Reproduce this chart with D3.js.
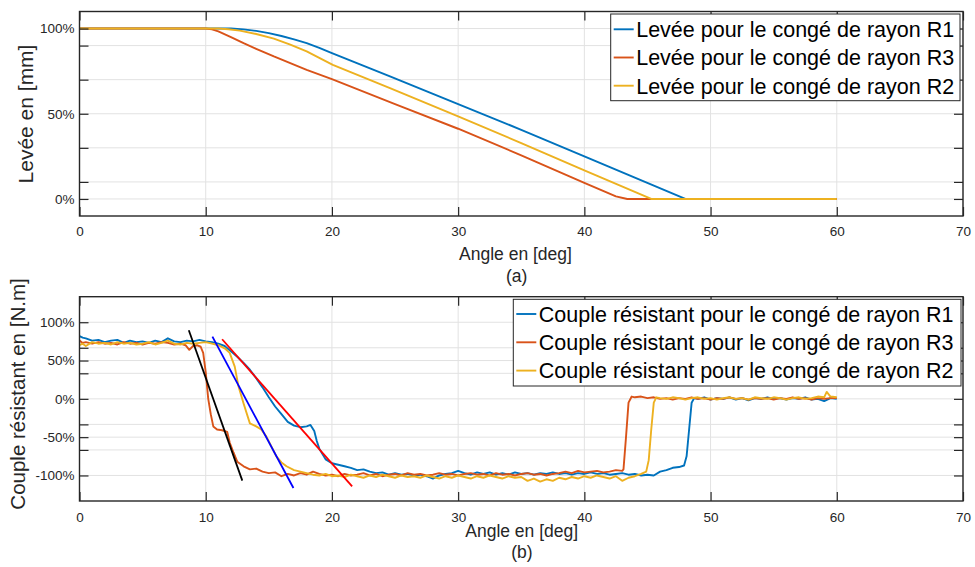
<!DOCTYPE html>
<html><head><meta charset="utf-8">
<script src="https://cdn.jsdelivr.net/npm/d3@7"></script>
<style>
body{margin:0;background:#fff}
svg{display:block}
text{font-family:"Liberation Sans",Arial,Helvetica,sans-serif}
</style>
</head><body>
<svg id="chart" width="975" height="567"></svg>
<script>
// ---------- data ----------
const angleTicks = [0,10,20,30,40,50,60,70];
const liftTickValues = [0,10,30,50,70,90,100];
const liftTickLabels = ["0%","","","50%","","","100%"];
const torqueTickValues = [-100,-66.67,-50,-33.33,0,33.33,50,66.67,100];
const torqueTickLabels = ["-100%","","-50%","","0%","","50%","","100%"];

const liftNames = ["Levée pour le congé de rayon R1","Levée pour le congé de rayon R3","Levée pour le congé de rayon R2"];
const torqueNames = ["Couple résistant pour le congé de rayon R1","Couple résistant pour le congé de rayon R3","Couple résistant pour le congé de rayon R2"];
const seriesColors = ["#0072BD","#D95319","#EDB120"];

// lift (%) vs angle (deg)
const liftR1 = [[0,100],[12,100],[13,99.5],[14,98.6],[15,97.3],[16,95.6],[17,93.6],[18,91.4],[19,88.6],[20,85.6],[24.6,71.9],[30,55.7],[35,40.6],[40,25],[48,0],[60,0]];
const liftR3 = [[0,100],[10,100],[10.5,99.5],[11,98.3],[12,95],[13,91.4],[14,88.1],[15.4,83.6],[18,75.8],[20,70.3],[25,55.7],[30,41.2],[35,25.6],[40,9.4],[42.5,1.5],[43.4,0],[60,0]];
const liftR2 = [[0,100],[11,100],[11.8,99.6],[12.7,98.8],[14,96.8],[15.4,94.1],[16.7,90.6],[18,86.6],[20.07,78.7],[24.6,65],[30,48.4],[35,32.8],[40,16.8],[45.3,0],[60,0]];

// resisting torque (%) vs angle (deg)
const torqueR1 = [[0,82],[0.25,80],[0.5,79],[1,76],[1.5,77],[2,74],[2.5,76],[3,77],[3.5,73],[4,76],[4.5,74],[5,75],[5.5,73],[6,76],[6.5,74],[7,79],[7.5,75],[8,74],[8.5,76],[9,75],[9.5,77],[10,75],[10.5,74],[11,72],[11.5,69],[12,62],[12.5,55],[13,47],[13.5,38],[14,27],[14.5,15],[15,2],[15.5,-10],[16,-20],[16.5,-30],[17,-35],[17.5,-37],[18,-36],[18.3,-34],[18.6,-42],[18.8,-55],[19,-65],[19.5,-79],[20,-84],[20.5,-86],[21,-88],[21.5,-90],[22,-93],[22.5,-92],[23,-95],[23.5,-97],[24,-96],[24.5,-99],[25,-97],[25.5,-99],[26,-98],[26.5,-100],[27,-99],[27.5,-101],[28,-104],[28.5,-100],[29,-98],[29.5,-97],[30,-94],[30.5,-97],[31,-99],[31.5,-96],[32,-98],[32.5,-96],[33,-99],[33.5,-97],[34,-99],[34.5,-96],[35,-98],[35.5,-97],[36,-99],[36.5,-97],[37,-98],[37.5,-96],[38,-98],[38.5,-97],[39,-99],[39.5,-97],[40,-98],[40.5,-96],[41,-98],[41.5,-97],[42,-99],[42.5,-98],[43,-97],[43.5,-99],[44,-98],[44.5,-100],[45,-99],[45.5,-100],[46,-95],[46.5,-93],[47,-90],[47.5,-89],[47.9,-87],[48.1,-75],[48.3,-40],[48.5,-5],[48.7,1],[49,0],[49.5,2],[50,-1],[50.5,1],[51,0],[51.5,2],[52,-1],[52.5,1],[53,-2],[53.5,1],[54,0],[54.5,2],[55,0],[55.5,1],[56,-1],[56.5,1],[57,0],[57.5,2],[58,-1],[58.5,0],[59,-3],[59.5,1],[60,0]];
const torqueR3 = [[0,76],[0.25,73],[0.5,74],[1,72],[1.5,74],[2,72],[2.5,73],[3,71],[3.5,74],[4,72],[4.5,73],[5,71],[5.5,73],[6,72],[6.5,74],[7,73],[7.5,71],[8,72],[8.4,70],[8.7,64],[9,69],[9.3,70],[9.6,68],[9.8,60],[10,35],[10.2,0],[10.4,-20],[10.6,-36],[10.9,-40],[11.3,-41],[11.7,-43],[11.9,-57],[12.2,-70],[12.5,-82],[13,-88],[13.5,-92],[14,-91],[14.5,-95],[15,-97],[15.5,-96],[16,-101],[16.5,-98],[17,-100],[17.5,-97],[18,-99],[18.5,-95],[19,-98],[19.5,-100],[20,-99],[20.5,-101],[21,-98],[21.5,-100],[22,-99],[22.5,-97],[23,-100],[23.5,-98],[24,-101],[24.5,-99],[25,-98],[25.5,-100],[26,-97],[26.5,-99],[27,-98],[27.5,-100],[28,-99],[28.5,-97],[29,-99],[29.5,-98],[30,-100],[30.5,-98],[31,-97],[31.5,-99],[32,-98],[32.5,-100],[33,-97],[33.5,-99],[34,-98],[34.5,-100],[35,-98],[35.5,-97],[36,-99],[36.5,-98],[37,-100],[37.5,-98],[38,-97],[38.5,-95],[39,-97],[39.5,-94],[40,-96],[40.5,-95],[41,-94],[41.5,-96],[42,-95],[42.5,-93],[43,-94],[43.1,-92],[43.3,-50],[43.5,-5],[43.75,3],[44,2],[44.5,3],[45,1],[45.5,2],[46,0],[46.5,1],[47,-1],[47.5,1],[48,0],[48.5,2],[49,0],[49.5,1],[50,-1],[50.5,1],[51,0],[51.5,2],[52,0],[52.5,1],[53,-1],[53.5,1],[54,0],[54.5,1],[55,-1],[55.5,1],[56,0],[56.5,2],[57,0],[57.5,1],[58,-1],[58.5,1],[59,0],[59.5,1],[60,1]];
const torqueR2 = [[0,70],[0.25,72],[0.5,69],[1,74],[1.5,72],[2,73],[2.5,71],[3,74],[3.5,72],[4,73],[4.5,71],[5,72],[5.5,74],[6,71],[6.5,73],[7,76],[7.5,72],[8,71],[8.5,73],[9,72],[9.5,73],[10,74],[10.5,72],[11,70],[11.5,66],[11.9,60],[12.3,42],[12.6,16],[13,-6],[13.5,-32],[14,-36],[14.4,-40],[14.8,-49],[15.2,-62],[15.6,-75],[16,-83],[16.4,-88],[17,-93],[17.5,-95],[18,-97],[18.5,-99],[19,-100],[19.5,-98],[20,-101],[20.5,-100],[21,-102],[21.5,-99],[22,-101],[22.5,-103],[23,-100],[23.5,-102],[24,-99],[24.5,-101],[25,-103],[25.5,-100],[26,-102],[26.5,-101],[27,-103],[27.5,-100],[28,-102],[28.5,-104],[29,-101],[29.5,-103],[30,-100],[30.5,-102],[31,-104],[31.5,-101],[32,-103],[32.5,-100],[33,-102],[33.5,-104],[34,-101],[34.5,-103],[35,-102],[35.5,-107],[36,-104],[36.5,-108],[37,-105],[37.5,-107],[38,-103],[38.5,-105],[39,-102],[39.5,-104],[40,-101],[40.5,-103],[41,-100],[41.5,-102],[42,-104],[42.5,-101],[43,-107],[43.5,-103],[44,-101],[44.5,-98],[44.9,-95],[45.1,-80],[45.3,-40],[45.5,-5],[45.7,2],[46,1],[46.5,0],[47,2],[47.5,1],[48,-1],[48.5,1],[49,2],[49.5,0],[50,1],[50.5,-1],[51,1],[51.5,2],[52,0],[52.5,1],[53,-1],[53.5,2],[54,1],[54.5,0],[55,2],[55.5,1],[56,-1],[56.5,1],[57,2],[57.5,0],[58,1],[58.5,3],[59,2],[59.2,9],[59.5,3],[60,2]];

// fitted slope lines on the torque drop
const slopeBlack = [[8.66,89.5],[12.9,-106.7]];
const slopeBlue = [[10.53,81.2],[16.95,-116.4]];
const slopeRed = [[11.3,77.8],[21.6,-114.3]];
const slopeColors = ["#000000","#0000FF","#FF0000"];

// ---------- drawing ----------
const svg = d3.select("#chart");
const axisColor = "#262626";
const gridColor = "#e2e2e2";

function panel(opt){
  const x = d3.scaleLinear().domain([0,70]).range([opt.left, opt.right]);
  const y = d3.scaleLinear().domain(opt.yDomain).range([opt.bottom, opt.top]);
  const g = svg.append("g");
  const clipId = "clip" + opt.id;
  svg.append("clipPath").attr("id", clipId).append("rect")
    .attr("x", opt.left).attr("y", opt.top)
    .attr("width", opt.right-opt.left).attr("height", opt.bottom-opt.top);

  // grid
  g.selectAll(".gx").data(angleTicks).enter().append("line")
    .attr("x1", d=>x(d)).attr("x2", d=>x(d)).attr("y1", opt.top).attr("y2", opt.bottom)
    .attr("stroke", gridColor).attr("stroke-width", 1);
  g.selectAll(".gy").data(opt.yTicks).enter().append("line")
    .attr("y1", d=>y(d)).attr("y2", d=>y(d)).attr("x1", opt.left).attr("x2", opt.right)
    .attr("stroke", gridColor).attr("stroke-width", 1);

  // data
  const line = d3.line().x(d=>x(d[0])).y(d=>y(d[1]));
  const dg = g.append("g").attr("clip-path", `url(#${clipId})`);
  opt.series.forEach((s,i)=>{
    dg.append("path").datum(s).attr("d", line).attr("fill","none")
      .attr("stroke", seriesColors[i]).attr("stroke-width", 1.9).attr("stroke-linejoin","round");
  });
  (opt.extra||[]).forEach((s,i)=>{
    dg.append("path").datum(s).attr("d", line).attr("fill","none")
      .attr("stroke", slopeColors[i]).attr("stroke-width", 1.8);
  });

  // box
  g.append("rect").attr("x", opt.left).attr("y", opt.top)
    .attr("width", opt.right-opt.left).attr("height", opt.bottom-opt.top)
    .attr("fill","none").attr("stroke", axisColor).attr("stroke-width", 1.4);

  // ticks (inside, all sides)
  const tl = 9;
  const xAxB = d3.axisBottom(x).tickValues(angleTicks).tickSize(-tl).tickPadding(9).tickFormat(d3.format("d"));
  const xAxT = d3.axisTop(x).tickValues(angleTicks).tickSize(-tl).tickFormat("");
  const yAxL = d3.axisLeft(y).tickValues(opt.yTicks).tickSize(-tl).tickPadding(5)
    .tickFormat((d,i)=>opt.yLabels[i]);
  const yAxR = d3.axisRight(y).tickValues(opt.yTicks).tickSize(-tl).tickFormat("");
  function style(sel){
    sel.select(".domain").remove();
    sel.selectAll(".tick line").attr("stroke", axisColor).attr("stroke-width", 1.2);
    sel.selectAll(".tick text").attr("fill", axisColor)
      .style("font-size","13.5px").style("font-family",'"Liberation Sans",Arial,sans-serif');
  }
  const bx = g.append("g").attr("transform",`translate(0,${opt.bottom})`).call(xAxB).call(style);
  bx.selectAll(".tick text").attr("dy", null).attr("y", opt.xTickBaseline - opt.bottom);
  g.append("g").attr("transform",`translate(0,${opt.top})`).call(xAxT).call(style);
  g.append("g").attr("transform",`translate(${opt.left},0)`).call(yAxL).call(style);
  g.append("g").attr("transform",`translate(${opt.right},0)`).call(yAxR).call(style);

  // axis labels
  g.append("text").attr("x", opt.xLabelX).attr("y", opt.xLabelY).attr("text-anchor","middle")
    .attr("fill", axisColor).style("font-size","17.5px").text("Angle en [deg]");
  g.append("text").attr("x", opt.capX).attr("y", opt.capY).attr("text-anchor","middle")
    .attr("fill", axisColor).style("font-size","17.5px").text(opt.caption);
  g.append("text").attr("transform",`translate(${opt.yLabelX},${opt.yLabelY}) rotate(-90)`)
    .attr("text-anchor","middle").attr("fill", axisColor)
    .style("font-size", opt.yLabelSize).text(opt.yLabel);

  // legend
  const L = opt.legend;
  const lg = g.append("g");
  lg.append("rect").attr("x", L.x).attr("y", L.y).attr("width", L.w).attr("height", L.h)
    .attr("fill","#fff").attr("stroke", axisColor).attr("stroke-width", 1);
  L.names.forEach((n,i)=>{
    const ly = L.y + L.first + i*L.step;
    lg.append("line").attr("x1", L.x+3).attr("x2", L.x+23).attr("y1", ly).attr("y2", ly)
      .attr("stroke", seriesColors[i]).attr("stroke-width", 1.9);
    lg.append("text").attr("x", L.x+25.5).attr("y", ly+7.8).attr("fill","#000")
      .style("font-size","21.5px").text(n);
  });
}

panel({
  id:"a", left:79.5, right:963, top:11.5, bottom:216,
  yDomain:[-10,110], yTicks:liftTickValues, yLabels:liftTickLabels,
  series:[liftR1, liftR3, liftR2],
  xTickBaseline:235.7, xLabelX:515.5, xLabelY:260, capX:516.7, capY:282.3, caption:"(a)",
  yLabel:"Levée en [mm]", yLabelX:33, yLabelY:114, yLabelSize:"21px",
  legend:{x:610.7, y:14, w:349.3, h:86.7, first:15.3, step:28.2, names:liftNames}
});

panel({
  id:"b", left:79.5, right:963, top:296.7, bottom:501,
  yDomain:[-133.33,133.33], yTicks:torqueTickValues, yLabels:torqueTickLabels,
  series:[torqueR1, torqueR3, torqueR2], extra:[slopeBlack, slopeBlue, slopeRed],
  xTickBaseline:521.5, xLabelX:521.7, xLabelY:536.5, capX:522, capY:558, caption:"(b)",
  yLabel:"Couple résistant en [N.m]", yLabelX:25, yLabelY:394, yLabelSize:"20.5px",
  legend:{x:513.3, y:299.3, w:447.7, h:86.7, first:14.7, step:28.3, names:torqueNames}
});
</script>
</body></html>
